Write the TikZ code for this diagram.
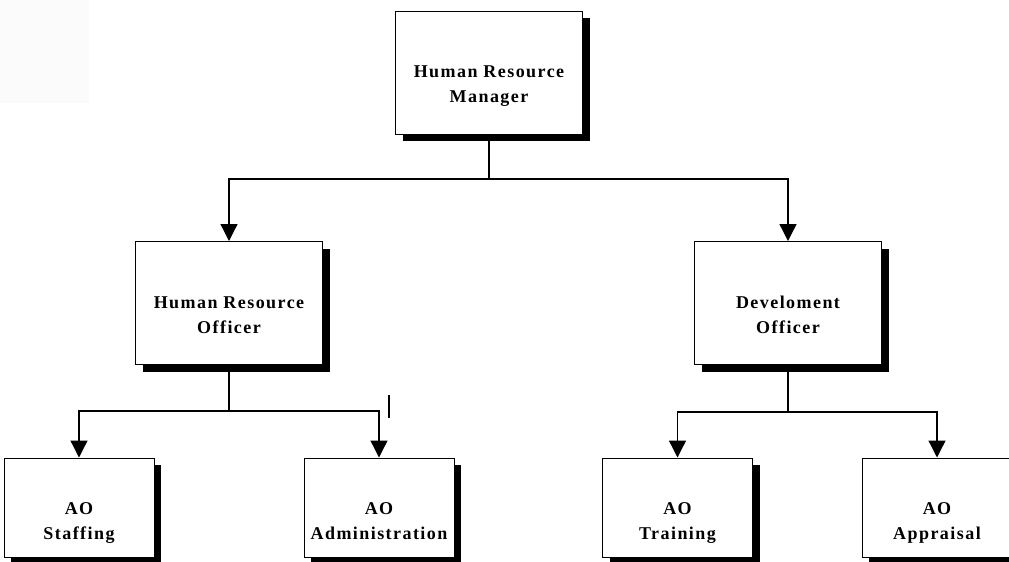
\documentclass[tikz,border=0pt]{standalone}
\usepackage{fontspec}
\setmainfont{Liberation Serif}
\newfontfamily\boxfont[LetterSpace=8]{Liberation Serif}
\usetikzlibrary{shadows,arrows.meta}
\tikzset{
  orgbox/.style={draw=black, line width=1pt, fill=white, rectangle, inner sep=0pt,
    drop shadow={shadow xshift=7pt, shadow yshift=-7pt, fill=black, opacity=1}},
  bigbox/.style={orgbox, minimum width=187pt, minimum height=123pt},
  smallbox/.style={orgbox, minimum width=150pt, minimum height=99pt},
  lbl/.style={align=center, font=\boxfont\bfseries\fontsize{18pt}{25pt}\selectfont, inner sep=0pt},
  conn/.style={line width=1.3pt, draw=black},
  arr/.style={conn, -{Triangle[length=17pt,width=17pt]}}
}
\begin{document}
\begin{tikzpicture}[x=1pt,y=-1pt]
\useasboundingbox (0,0) rectangle (1009,562);
\clip (0,0) rectangle (1009,562);
\fill[black!1.5] (0,0) rectangle (89,103);
% boxes
\node[bigbox] (hrm) at (489,72.5) {};
\node[bigbox] (hro) at (229,303) {};
\node[bigbox] (dev) at (788,303) {};
\node[smallbox] (staff) at (79,507.5) {};
\node[smallbox] (admin) at (379,507.5) {};
\node[smallbox] (train) at (677.5,507.5) {};
\node[smallbox] (appr) at (937,507.5) {};
% labels
\node[lbl] (hrmt) at ([yshift=-12pt]hrm.center) {\strut Human Resource\\Manager\strut};
\node[lbl] (hrot) at ([yshift=-12.5pt]hro.center) {\strut Human Resource\\Officer\strut};
\node[lbl] (devt) at ([yshift=-12.5pt]dev.center) {\strut Develoment\\Officer\strut};
\node[lbl] (stafft) at ([yshift=-14pt]staff.center) {\strut AO\\Staffing\strut};
\node[lbl] (admint) at ([yshift=-14pt]admin.center) {\strut AO\\Administration\strut};
\node[lbl] (traint) at ([yshift=-14pt]train.center) {\strut AO\\Training\strut};
\node[lbl] (apprt) at ([yshift=-14pt]appr.center) {\strut AO\\Appraisal\strut};
% junctions
\coordinate (j1) at (489,179);
\coordinate (j2) at (229,411);
\coordinate (j3) at (788,412);
% connectors
\draw[conn] (hrm.south) -- (j1);
\draw[arr] (j1) -| (hro.north);
\draw[arr] (j1) -| (dev.north);
\draw[conn] (hro.south) -- (j2);
\draw[arr] (j2) -| (staff.north);
\draw[arr] (j2) -| (admin.north);
\draw[conn] (dev.south) -- (j3);
\draw[arr] (j3) -| (train.north);
\draw[arr] (j3) -| (appr.north);
% stray mark
\coordinate (m1) at (389,395);
\coordinate (m2) at (389,418);
\draw[line width=1.8pt] (m1) -- (m2);
\end{tikzpicture}
\end{document}
